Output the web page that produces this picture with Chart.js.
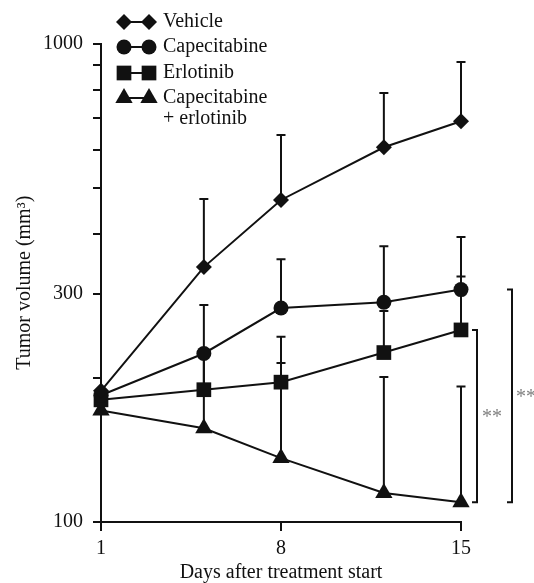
<!DOCTYPE html>
<html>
<head>
<meta charset="utf-8">
<script src="https://cdn.jsdelivr.net/npm/chart.js@4.4.0/dist/chart.umd.min.js"></script>
<style>
  html, body { margin: 0; padding: 0; background: #fff; }
  canvas { display: block; }
</style>
</head>
<body>
<canvas id="tumorChart" width="534" height="583"></canvas>
<script>
// values (tumor volume, mm3)
const days = [1, 5, 8, 12, 15];
const xTicks = [1, 8, 15];
const yTicks = [100, 200, 300, 400, 500, 600, 700, 800, 900, 1000];
const yLabels = [100, 300, 1000];

const seriesNames = ['Vehicle', 'Capecitabine', 'Erlotinib', 'Capecitabine\n+ erlotinib'];
const vehicle = [188, 341, 471, 607, 688];
const vehicleUpper = [188, 473, 644, 788, 915];
const capecitabine = [184, 225, 280, 288, 306];
const capecitabineUpper = [184, 284, 354, 377, 394];
const erlotinib = [180, 189, 196, 226, 252];
const erlotinibUpper = [180, 228, 215, 276, 326];
const combo = [171, 157, 136, 115, 110];
const comboUpper = [171, 224, 244, 201, 192];

const ink = '#111';
const serif = "'Liberation Serif', 'Times New Roman', serif";

function makeSet(name, values, upper, style, radius) {
  return {
    label: name,
    data: days.map((d, i) => ({ x: d, y: values[i] })),
    upper: upper,
    borderColor: ink,
    backgroundColor: ink,
    borderWidth: 2,
    pointStyle: style,
    pointRadius: radius,
    pointHoverRadius: radius,
    pointBorderWidth: 0,
    pointBackgroundColor: ink,
    tension: 0,
    clip: false
  };
}

// same shapes as chart.js draws them, for the legend
function drawMarker(ctx, style, x, y, r) {
  ctx.beginPath();
  if (style === 'circle') {
    ctx.arc(x, y, r, 0, Math.PI * 2);
  } else if (style === 'rect') {
    const s = r * Math.SQRT1_2;
    ctx.rect(x - s, y - s, 2 * s, 2 * s);
  } else if (style === 'rectRot') {
    ctx.moveTo(x, y - r); ctx.lineTo(x + r, y); ctx.lineTo(x, y + r); ctx.lineTo(x - r, y);
    ctx.closePath();
  } else if (style === 'triangle') {
    ctx.moveTo(x, y - r);
    ctx.lineTo(x + 0.866 * r, y + 0.5 * r);
    ctx.lineTo(x - 0.866 * r, y + 0.5 * r);
    ctx.closePath();
  }
  ctx.fill();
}

const errorBars = {
  id: 'errorBars',
  beforeDatasetsDraw(chart) {
    const { ctx, scales: { x, y } } = chart;
    ctx.save();
    ctx.strokeStyle = ink;
    ctx.lineWidth = 2;
    chart.data.datasets.forEach(ds => {
      ds.data.forEach((p, i) => {
        const top = ds.upper[i];
        if (top <= p.y) return;
        const px = x.getPixelForValue(p.x);
        const y0 = y.getPixelForValue(p.y);
        const y1 = y.getPixelForValue(top);
        ctx.beginPath();
        ctx.moveTo(px, y0); ctx.lineTo(px, y1);
        ctx.moveTo(px - 4.5, y1); ctx.lineTo(px + 4.5, y1);
        ctx.stroke();
      });
    });
    ctx.restore();
  }
};

const legendAndStats = {
  id: 'legendAndStats',
  afterDraw(chart) {
    const { ctx, scales: { y } } = chart;
    ctx.save();
    // legend
    const rows = [22, 47, 73, 98];
    ctx.font = '20px ' + serif;
    ctx.textBaseline = 'middle';
    chart.data.datasets.forEach((ds, i) => {
      const ry = rows[i];
      ctx.strokeStyle = ink; ctx.fillStyle = ink; ctx.lineWidth = 2;
      ctx.beginPath(); ctx.moveTo(124, ry); ctx.lineTo(149, ry); ctx.stroke();
      drawMarker(ctx, ds.pointStyle, 124, ry, ds.pointRadius);
      drawMarker(ctx, ds.pointStyle, 149, ry, ds.pointRadius);
      ds.label.split('\n').forEach((line, k) => ctx.fillText(line, 163, ry + k * 21));
    });
    // significance brackets at day 15
    const last = days.length - 1;
    [[erlotinib[last], combo[last], 477, 15], [capecitabine[last], combo[last], 512, 14]].forEach(([a, b, bx, dx]) => {
      const ya = y.getPixelForValue(a);
      const yb = y.getPixelForValue(b);
      ctx.strokeStyle = ink; ctx.lineWidth = 2;
      ctx.beginPath();
      ctx.moveTo(bx - 5, ya); ctx.lineTo(bx, ya); ctx.lineTo(bx, yb); ctx.lineTo(bx - 5, yb);
      ctx.stroke();
      ctx.fillStyle = '#808080';
      ctx.textAlign = 'center';
      ctx.textBaseline = 'alphabetic';
      ctx.fillText('**', bx + dx, (ya + yb) / 2 + 7);
    });
    ctx.restore();
  }
};

const ctx = document.getElementById('tumorChart').getContext('2d');
new Chart(ctx, {
  type: 'line',
  data: {
    datasets: [
      makeSet(seriesNames[0], vehicle, vehicleUpper, 'rectRot', 8),
      makeSet(seriesNames[1], capecitabine, capecitabineUpper, 'circle', 7.5),
      makeSet(seriesNames[2], erlotinib, erlotinibUpper, 'rect', 10.4),
      makeSet(seriesNames[3], combo, comboUpper, 'triangle', 10)
    ]
  },
  options: {
    responsive: false,
    animation: false,
    layout: { padding: { left: 0, right: 73, top: 43.5, bottom: 0 } },
    plugins: { legend: { display: false }, tooltip: { enabled: false } },
    scales: {
      x: {
        type: 'linear',
        min: 1,
        max: 15,
        afterBuildTicks: s => { s.ticks = xTicks.map(v => ({ value: v })); },
        afterFit: s => { s.height = 61; },
        grid: { drawOnChartArea: false, tickLength: 9, color: ink, lineWidth: 2 },
        border: { display: true, color: ink, width: 2 },
        ticks: { color: ink, padding: 6, maxRotation: 0, font: { family: serif, size: 20 } },
        title: {
          display: true,
          text: 'Days after treatment start',
          color: ink,
          padding: 0,
          font: { family: serif, size: 20, lineHeight: 1 }
        }
      },
      y: {
        type: 'logarithmic',
        min: 100,
        max: 1000,
        afterBuildTicks: s => { s.ticks = yTicks.map(v => ({ value: v })); },
        afterFit: s => { s.width = 101; },
        grid: { drawOnChartArea: false, tickLength: 8, color: ink, lineWidth: 2 },
        border: { display: true, color: ink, width: 2 },
        ticks: {
          color: ink,
          padding: 10,
          font: { family: serif, size: 20 },
          callback: v => yLabels.includes(v) ? String(v) : ''
        },
        title: {
          display: true,
          text: 'Tumor volume (mm³)',
          color: ink,
          padding: { top: 15, bottom: 0 },
          font: { family: serif, size: 20, lineHeight: 1 }
        }
      }
    }
  },
  plugins: [errorBars, legendAndStats]
});
</script>
</body>
</html>
